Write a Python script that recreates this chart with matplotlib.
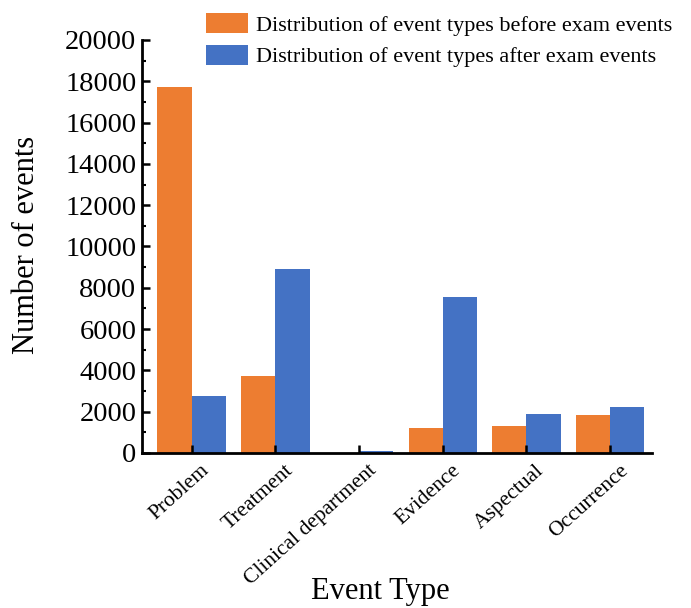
import matplotlib
matplotlib.use("Agg")
import matplotlib.pyplot as plt
import numpy as np
from matplotlib.ticker import MultipleLocator

categories = ["Problem", "Treatment", "Clinical department", "Evidence", "Aspectual", "Occurrence"]
before_exam = [17700, 3740, 0, 1190, 1320, 1860]
after_exam = [2740, 8900, 120, 7560, 1900, 2230]
series_labels = ["Distribution of event types before exam events",
                 "Distribution of event types after exam events"]
y_ticks = [0, 2000, 4000, 6000, 8000, 10000, 12000, 14000, 16000, 18000, 20000]

plt.rcParams['font.family'] = ['Liberation Serif', 'DejaVu Serif']

W, H = 691, 608
fig = plt.figure(figsize=(W / 100, H / 100), dpi=100)
left, right, top, bottom = 142, 652, 40, 453
ax = fig.add_axes([left / W, 1 - bottom / H, (right - left) / W, (bottom - top) / H])

x = np.arange(len(categories))
w = 0.41
ax.bar(x - w / 2, before_exam, width=w, color="#ED7D31", label=series_labels[0])
ax.bar(x + w / 2, after_exam, width=w, color="#4472C4", label=series_labels[1])

ax.set_xlim(-0.595, 5.5)
ax.set_ylim(0, 20000)
ax.set_yticks(y_ticks)
ax.yaxis.set_minor_locator(MultipleLocator(1000))
ax.set_xticks(x)
ax.set_xticklabels([])
for i, c in enumerate(categories):
    ax.annotate(c, xy=(x[i], 0), xycoords=("data", "axes fraction"),
                xytext=(9, -8), textcoords="offset pixels",
                rotation=42, ha="right", va="top", rotation_mode="anchor",
                fontsize=15.5)
for lbl in ax.get_yticklabels():
    lbl.set_fontsize(20.5)

ax.spines["top"].set_visible(False)
ax.spines["right"].set_visible(False)
for s in ("left", "bottom"):
    ax.spines[s].set_linewidth(2)
ax.tick_params(axis="y", which="major", direction="in", length=6, width=1.8, pad=4)
ax.tick_params(axis="y", which="minor", direction="in", length=3, width=1.5)
ax.tick_params(axis="x", which="major", direction="in", length=6, width=1.8, pad=6)

fig.text(27 / W, 1 - 245 / H, "Number of events", fontsize=22, rotation=90,
         ha="center", va="center")
fig.text(380 / W, 1 - 592 / H, "Event Type", fontsize=22, ha="center", va="center")

ax.legend(loc="upper right", bbox_to_anchor=(672 / W, 1 - 13 / H), bbox_transform=fig.transFigure,
          frameon=False, fontsize=16, handlelength=1.9, handleheight=1.0,
          handletextpad=0.36, labelspacing=0.42, borderaxespad=0, borderpad=0)

fig.savefig("out.png", dpi=100)
